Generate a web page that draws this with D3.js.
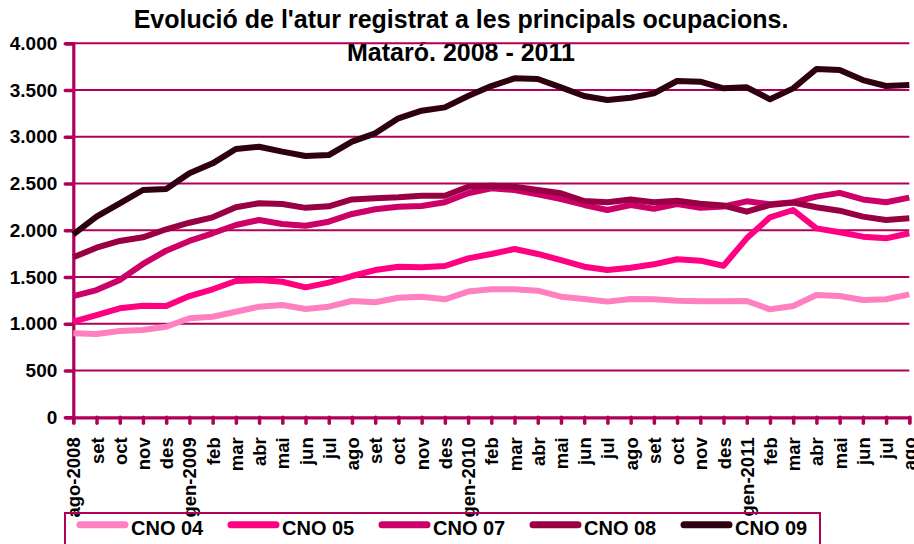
<!DOCTYPE html>
<html>
<head>
<meta charset="utf-8">
<script src="https://cdn.jsdelivr.net/npm/d3@7"></script>
<style>
  html, body { margin: 0; padding: 0; background: #ffffff; }
  svg { display: block; }
  text { font-family: "Liberation Sans", Arial, Helvetica, sans-serif; font-weight: bold; fill: #000; }
</style>
</head>
<body>
<div id="chart"></div>
<script>
const months = ["ago-2008","set","oct","nov","des","gen-2009","feb","mar","abr","mai","jun","jul",
  "ago","set","oct","nov","des","gen-2010","feb","mar","abr","mai","jun","jul",
  "ago","set","oct","nov","des","gen-2011","feb","mar","abr","mai","jun","jul","ago"];

const seriesNames = ["CNO 04","CNO 05","CNO 07","CNO 08","CNO 09"];
const seriesColors = ["#ff80c0","#ff0080","#cc0066","#990044","#2e0010"];

const cno04 = [898,891,923,934,969,1059,1076,1129,1183,1201,1158,1183,1244,1230,1279,1290,1262,1345,1369,1369,1354,1290,1265,1237,1265,1262,1247,1240,1240,1244,1155,1190,1308,1297,1254,1262,1315];
const cno05 = [1023,1094,1166,1194,1190,1297,1369,1458,1468,1450,1390,1440,1511,1575,1611,1604,1618,1700,1747,1800,1747,1682,1611,1575,1600,1636,1690,1675,1621,1914,2139,2217,2021,1979,1932,1914,1968];
const cno07 = [1297,1361,1468,1640,1782,1886,1968,2057,2110,2067,2049,2092,2175,2225,2253,2260,2300,2396,2449,2431,2385,2335,2271,2217,2270,2230,2280,2240,2255,2310,2280,2300,2360,2400,2330,2300,2350];
const cno08 = [1711,1814,1886,1925,2011,2081,2139,2246,2289,2281,2240,2256,2330,2342,2353,2370,2370,2466,2477,2466,2431,2396,2313,2299,2330,2300,2315,2285,2265,2199,2271,2296,2246,2210,2146,2110,2128];
const cno09 = [1957,2146,2289,2431,2442,2610,2716,2870,2894,2841,2795,2805,2948,3037,3198,3279,3315,3436,3543,3625,3618,3529,3436,3394,3418,3465,3597,3590,3518,3529,3401,3518,3725,3714,3607,3543,3554];

const yTicks = [0,500,1000,1500,2000,2500,3000,3500,4000];
const titleLines = ["Evolució de l'atur registrat a les principals ocupacions.", "Mataró. 2008 - 2011"];

const allSeries = [cno04, cno05, cno07, cno08, cno09];

const W = 914, H = 544;
const axisColor = "#b0005a";
const fmt = v => d3.format(",")(v).replace(/,/g, ".");

const svg = d3.select("#chart").append("svg").attr("width", W).attr("height", H);
svg.append("rect").attr("width", W).attr("height", H).attr("fill", "#fff");

const x = d3.scalePoint().domain(d3.range(months.length)).range([73.3, 909.3]);
const y = d3.scaleLinear().domain([0, 4000]).range([417.3, 43.3]);

// Title
svg.append("g").selectAll("text").data(titleLines).join("text")
  .attr("x", 461).attr("y", (d, i) => 27.7 + i * 33.3)
  .attr("text-anchor", "middle").style("font-size", "25px").text(d => d);

// Gridlines
svg.append("g").selectAll("line").data(yTicks.filter(t => t > 0)).join("line")
  .attr("x1", x(0)).attr("x2", x(months.length - 1))
  .attr("y1", d => y(d)).attr("y2", d => y(d))
  .attr("stroke", axisColor).attr("stroke-width", 2);

// Y axis
const yAxis = svg.append("g").attr("transform", `translate(${x(0)},0)`)
  .call(d3.axisLeft(y).tickValues(yTicks).tickSize(8).tickPadding(8).tickFormat(fmt));
yAxis.select(".domain").attr("stroke", axisColor).attr("stroke-width", 3.2);
yAxis.selectAll(".tick line").attr("stroke", axisColor).attr("stroke-width", 3.5).attr("stroke-linecap", "round");
yAxis.selectAll(".tick text").attr("fill", "#000").style("font-size", "19px")
  .style("font-family", "'Liberation Sans', Arial, sans-serif").style("font-weight", "bold")
  .attr("x", -16);

// X axis
const xAxis = svg.append("g").attr("transform", `translate(0,${y(0)})`)
  .call(d3.axisBottom(x).tickSize(6).tickFormat(i => months[i]));
xAxis.select(".domain").attr("stroke", axisColor).attr("stroke-width", 3.2);
xAxis.selectAll(".tick line").attr("stroke", axisColor).attr("stroke-width", 3.5).attr("stroke-linecap", "round");
xAxis.selectAll(".tick text")
  .attr("fill", "#000").style("font-size", "18.5px")
  .style("font-family", "'Liberation Sans', Arial, sans-serif").style("font-weight", "bold")
  .attr("text-anchor", "end").attr("dy", null)
  .attr("transform", "translate(0,20) rotate(-90)")
  .attr("x", 0).attr("y", 6.5);

// Lines
const line = d3.line().x((d, i) => x(i)).y(d => y(d));
svg.append("g").selectAll("path").data(allSeries).join("path")
  .attr("d", d => line(d))
  .attr("fill", "none")
  .attr("stroke", (d, i) => seriesColors[i])
  .attr("stroke-width", 6)
  .attr("stroke-linejoin", "round");

// Legend
const lg = svg.append("g");
lg.append("rect").attr("x", 65).attr("y", 513).attr("width", 755).attr("height", 60)
  .attr("fill", "none").attr("stroke", axisColor).attr("stroke-width", 2);
const items = lg.selectAll("g.item").data(seriesNames).join("g").attr("class", "item")
  .attr("transform", (d, i) => `translate(${77 + i * 151},0)`);
items.append("line").attr("x1", 3).attr("x2", 48).attr("y1", 524.7).attr("y2", 524.7)
  .attr("stroke", (d, i) => seriesColors[i]).attr("stroke-width", 7).attr("stroke-linecap", "round");
items.append("text").attr("x", 54).attr("y", 535).style("font-size", "20px").text(d => d);
</script>
</body>
</html>
